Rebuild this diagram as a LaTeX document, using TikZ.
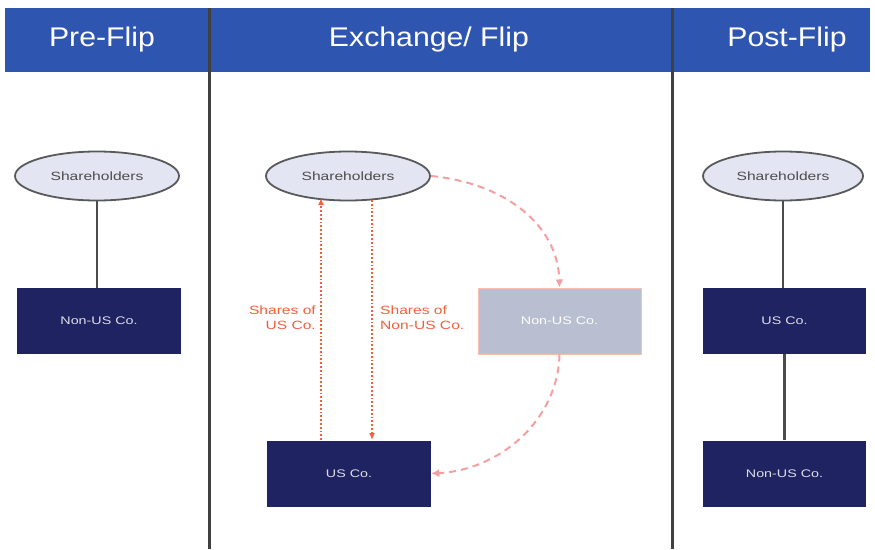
\documentclass[tikz,border=0pt]{standalone}
\usepackage{fontspec}
\setmainfont{Liberation Sans}
\newfontfamily\widefont[FakeStretch=1.3]{Liberation Sans}
\newfontfamily\hdrfont[FakeStretch=1.12]{Liberation Sans}
\usetikzlibrary{shapes.geometric,arrows.meta}
\definecolor{hdr}{HTML}{2E56B1}
\definecolor{navy}{HTML}{1F2362}
\definecolor{lav}{HTML}{E3E6F2}
\definecolor{fade}{HTML}{B9BFD1}
\definecolor{shr}{HTML}{F0603C}
\definecolor{pinkd}{HTML}{F4A0A0}
\begin{document}
\begin{tikzpicture}[x=1pt,y=-1pt,
  holder/.style={ellipse,draw=black!65,line width=1.8pt,fill=lav,minimum width=164pt,minimum height=49pt,inner sep=0pt,font=\widefont\fontsize{12}{13}\selectfont,text=black!70},
  cobox/.style={rectangle,fill=navy,minimum width=164pt,minimum height=66pt,inner sep=0pt,font=\widefont\fontsize{11}{12}\selectfont,text=white!85!navy},
  ghost/.style={rectangle,fill=fade,draw=shr!40,line width=1pt,minimum width=163pt,minimum height=66pt,inner sep=0pt,font=\widefont\fontsize{11}{12}\selectfont,text=white},
  link/.style={draw=black!70,line width=2.6pt},
  shareline/.style={draw=shr,line width=1.8pt,dotted,-{Latex[length=7pt,width=6pt]}},
  flipline/.style={draw=pinkd,line width=2pt,dash pattern=on 7pt off 5pt,-{Latex[length=8pt,width=8pt]}},
  lbl/.style={text=shr,font=\widefont\fontsize{12}{15}\selectfont,inner sep=0pt},
  htext/.style={text=white,font=\hdrfont\fontsize{27}{30}\selectfont}]
\useasboundingbox (0,0) rectangle (875,549);
\fill[white] (0,0) rectangle (875,549);
% header
\fill[hdr] (5,8) rectangle (870,72);
\node[htext] (h1) at (102,40) {Pre-Flip};
\node[htext] (h2) at (429,40) {Exchange/ Flip};
\node[htext] (h3) at (787,40) {Post-Flip};
% dividers
\draw[black!75,line width=2.4pt] (209.5,8) -- (209.5,549);
\draw[black!75,line width=2.4pt] (672.5,8) -- (672.5,549);
% Pre-Flip
\node[holder] (s1) at (97,176) {Shareholders};
\node[cobox] (n1) at (99,321) {Non-US Co.};
\draw[link] (s1.south) -- (s1.south |- n1.north);
% Exchange
\node[holder] (s2) at (348,176) {Shareholders};
\node[cobox] (u2) at (349,473.5) {US Co.};
\node[ghost] (n2) at (559.5,321) {Non-US Co.};
\coordinate (a1) at (321,440);
\coordinate (a2) at (321,198);
\coordinate (b1) at (372,200);
\coordinate (b2) at (372,440);
\draw[shareline] (a1) -- (a2);
\draw[shareline] (b1) -- (b2);
\node[lbl,align=right,anchor=east] (l1) at (316,318) {Shares of\\US Co.};
\node[lbl,align=left,anchor=west] (l2) at (380,318) {Shares of\\Non-US Co.};
\draw[flipline] (s2.east) .. controls (505,183) and (558,225) .. (n2.north);
\draw[flipline] (n2.south) .. controls (558,420) and (500,470) .. (u2.east);
% Post-Flip
\node[holder,minimum width=160pt] (s3) at (783,176) {Shareholders};
\node[cobox,minimum width=163pt] (u3) at (784.5,321) {US Co.};
\node[cobox,minimum width=163pt] (n3) at (784.5,473.5) {Non-US Co.};
\draw[link] (s3.south) -- (s3.south |- u3.north);
\draw[link] (u3.south) -- (n3.north);
\end{tikzpicture}
\end{document}
